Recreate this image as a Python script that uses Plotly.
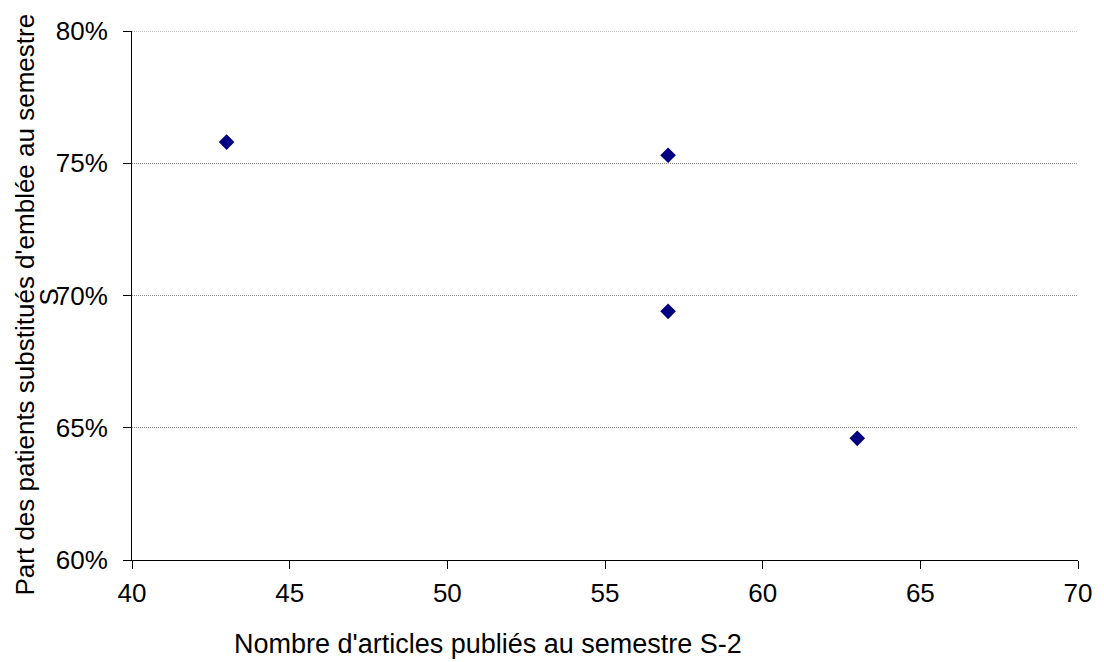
import plotly.graph_objects as go

articles = [43, 57, 57, 63]
part_substitues = [0.758, 0.753, 0.694, 0.646]

x_ticks = [40, 45, 50, 55, 60, 65, 70]
y_ticks = [0.60, 0.65, 0.70, 0.75, 0.80]
y_tick_labels = ["60%", "65%", "70%", "75%", "80%"]

x_title = "Nombre d'articles publiés au semestre S-2"
y_title_line1 = "Part des patients substitués d'emblée au semestre"
y_title_line2 = "S"

font = "Liberation Sans, Arial, sans-serif"
grid_color = "#8c8c8c"

fig = go.Figure(
    go.Scatter(
        x=articles, y=part_substitues, mode="markers",
        marker=dict(symbol="diamond", size=12, color="#000080"),
        hoverinfo="x+y",
    )
)

fig.update_layout(
    width=1104, height=662,
    margin=dict(l=132, r=20, t=31, b=102),
    paper_bgcolor="white", plot_bgcolor="white",
    font=dict(family=font, size=26, color="black"),
    showlegend=False,
)

fig.update_xaxes(
    range=[x_ticks[0], x_ticks[-1]], tickvals=x_ticks, showgrid=False, zeroline=False,
    showline=True, linecolor="black", linewidth=1,
    ticks="outside", ticklen=8, tickcolor="black",
    tickfont=dict(size=26), ticklabelstandoff=2, ticklabeloverflow="allow",
)
fig.update_yaxes(
    range=[y_ticks[0], y_ticks[-1]], tickvals=y_ticks, ticktext=y_tick_labels,
    showgrid=True, gridcolor=grid_color, gridwidth=1, griddash="1px,1px",
    zeroline=False, showline=True, linecolor="black", linewidth=1,
    ticks="outside", ticklen=8, tickcolor="black",
    tickfont=dict(size=26), ticklabelstandoff=10, ticklabeloverflow="allow",
)

# top gridline at the last tick (plotly hides the grid line at the range edge)
fig.add_shape(
    type="line", xref="paper", yref="y", x0=0, x1=1,
    y0=y_ticks[-1], y1=y_ticks[-1],
    line=dict(color=grid_color, width=1, dash="1px,1px"), layer="below",
)

fig.add_annotation(
    text=x_title, xref="paper", yref="paper", x=0.376, y=0,
    yshift=-84, showarrow=False, font=dict(size=27), yanchor="middle", borderpad=0,
)
fig.add_annotation(
    text=y_title_line1, xref="paper", yref="paper", x=0, y=0.5,
    xshift=-108, yshift=-9, showarrow=False, font=dict(size=26), textangle=-90,
    xanchor="center", yanchor="middle",
)
fig.add_annotation(
    text=y_title_line2, xref="paper", yref="paper", x=0, y=0.5,
    xshift=-84, yshift=-2, showarrow=False, font=dict(size=26), textangle=-90,
    xanchor="center", yanchor="middle",
)

fig.write_html(
    "out.html",
    config={"displayModeBar": False},
    post_script="document.body.style.margin='0';document.body.style.overflow='hidden';",
)
